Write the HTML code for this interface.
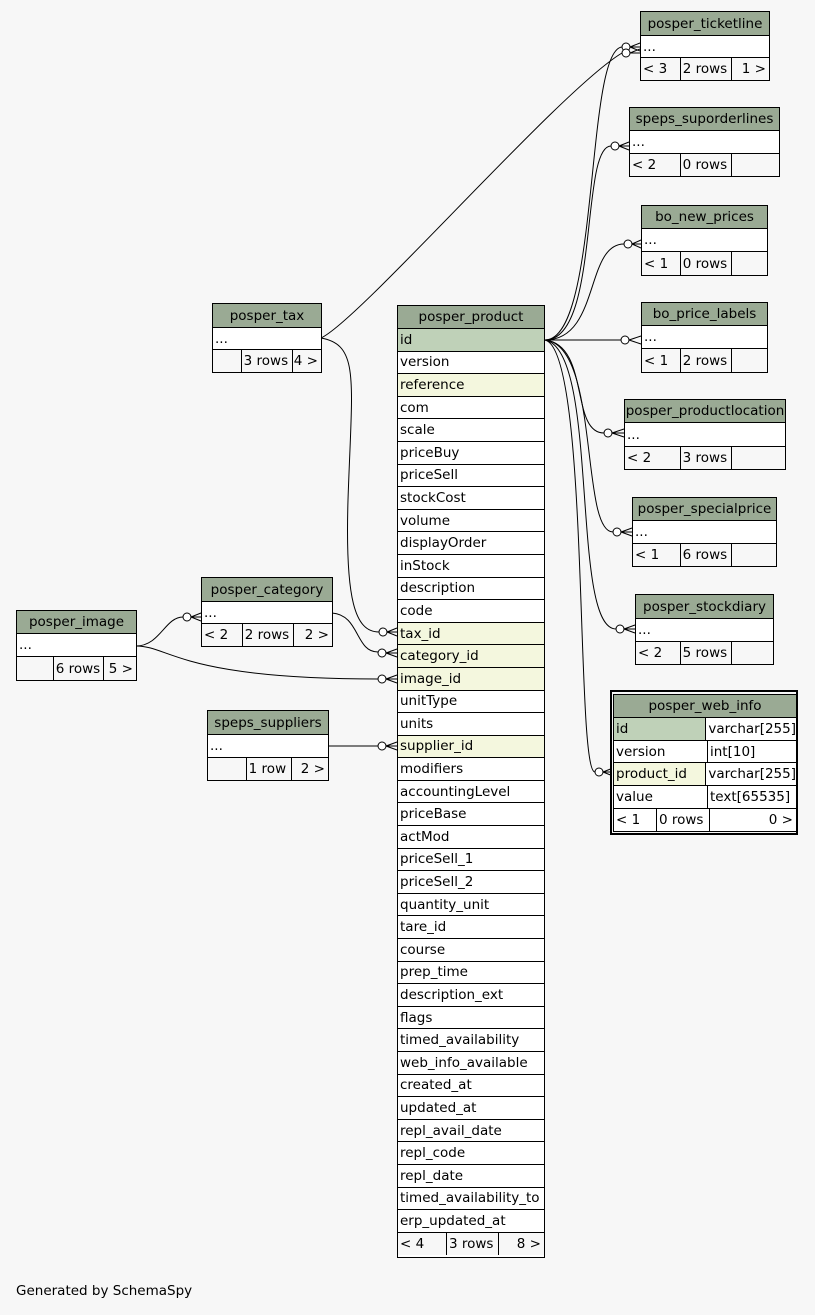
<!DOCTYPE html>
<html><head><meta charset="utf-8">
<style>
body{margin:0;background:#f7f7f7;width:815px;height:1315px;position:relative;overflow:hidden;font-family:"DejaVu Sans","Liberation Sans",sans-serif;font-size:13.5px;color:#000}
.t{position:absolute;border:1px solid #000;background:#fff;box-sizing:border-box}
.t>div{box-sizing:border-box;border-bottom:1px solid #000;padding-left:2px;white-space:nowrap;overflow:hidden;display:flex;align-items:center}
.t>div:last-child{border-bottom:none}
.h{background:#9aaa94;justify-content:center;padding-left:0!important}
.pk{background:#bfd1b8}
.fk{background:#f4f7de}
.f{padding-left:0!important;background:#f7f7f7}
.f span{display:flex;align-items:center;height:100%;padding-left:2px;box-sizing:border-box;border-left:1px solid #000}
.f span:first-child{border-left:none}
.f span.r{justify-content:flex-end;padding-right:3px}
svg{position:absolute;left:0;top:0}
</style></head><body>
<svg width="815" height="1315" fill="none" stroke="#000" stroke-width="1">
<path d="M545,340 C600,340 585,50 622,47"/>
<path d="M321,338 C360,320 560,90 622,53"/>
<path d="M545,340 C600,340 580,146 611,146"/>
<path d="M545,340 C600,340 585,244 624,244"/>
<path d="M545,340 L621,340"/>
<path d="M545,340 C590,345 570,433 604,433"/>
<path d="M545,340 C600,345 580,532 613,532"/>
<path d="M545,340 C600,350 570,629 616,629"/>
<path d="M545,340 C590,350 575,772 595,772"/>
<path d="M321,338 C360,345 352,380 348,500 C345,600 355,632 379,632"/>
<path d="M332,613 C360,615 355,652 378,652"/>
<path d="M136,646 C160,646 165,617 183,617"/>
<path d="M136,646 C170,646 180,679 378,679"/>
<path d="M328,746 L378,746"/>
<g fill="#fff">
<circle cx="626" cy="47" r="4"/><circle cx="626" cy="53" r="4"/>
<circle cx="615" cy="146" r="4"/><circle cx="628" cy="244" r="4"/>
<circle cx="625" cy="340" r="4"/><circle cx="608" cy="433" r="4"/>
<circle cx="617" cy="532" r="4"/><circle cx="620" cy="629" r="4"/>
<circle cx="599" cy="772" r="4"/><circle cx="383" cy="632" r="4"/>
<circle cx="382" cy="653" r="4"/><circle cx="187" cy="617" r="4"/>
<circle cx="382" cy="679" r="4"/><circle cx="382" cy="746" r="4"/>
</g>
<path d="M630,47 L640,43 M630,47 L640,47 M630,47 L640,51 M630,53 L640,49 M630,53 L640,53 M619,146 L629,142 M619,146 L629,146 M619,146 L629,150 M632,244 L641,240 M632,244 L641,244 M632,244 L641,248 M629,340 L641,336 M629,340 L641,344 M612,433 L624,429 M612,433 L624,433 M612,433 L624,437 M621,532 L632,528 M621,532 L632,532 M621,532 L632,536 M624,629 L635,625 M624,629 L635,629 M624,629 L635,633 M603,772 L613,768 M603,772 L613,772 M603,772 L613,776 M387,632 L397,628 M387,632 L397,632 M387,632 L397,636 M386,653 L397,649 M386,653 L397,653 M386,653 L397,657 M191,617 L201,613 M191,617 L201,617 M191,617 L201,621 M386,679 L397,675 M386,679 L397,679 M386,679 L397,683 M386,746 L397,742 M386,746 L397,746 M386,746 L397,750"/>
</svg>

<div class="t" style="left:640px;top:11px;width:130px;height:70px"><div class="h" style="height:24px">posper_ticketline</div><div style="height:22px">...</div><div class="f" style="height:22px"><span style="width:39px">&lt; 3</span><span style="width:52px">2 rows</span><span class="r" style="width:38px">1 &gt;</span></div></div>
<div class="t" style="left:629px;top:107px;width:151px;height:70px"><div class="h" style="height:23px">speps_suporderlines</div><div style="height:23px">...</div><div class="f" style="height:22px"><span style="width:50px">&lt; 2</span><span style="width:52px">0 rows</span><span style="width:48px"></span></div></div>
<div class="t" style="left:641px;top:205px;width:127px;height:71px"><div class="h" style="height:23px">bo_new_prices</div><div style="height:23px">...</div><div class="f" style="height:23px"><span style="width:38px">&lt; 1</span><span style="width:52px">0 rows</span><span style="width:36px"></span></div></div>
<div class="t" style="left:641px;top:302px;width:127px;height:71px"><div class="h" style="height:23px">bo_price_labels</div><div style="height:23px">...</div><div class="f" style="height:23px"><span style="width:38px">&lt; 1</span><span style="width:52px">2 rows</span><span style="width:36px"></span></div></div>
<div class="t" style="left:624px;top:399px;width:162px;height:71px"><div class="h" style="height:23px">posper_productlocation</div><div style="height:24px">...</div><div class="f" style="height:22px"><span style="width:55px">&lt; 2</span><span style="width:52px">3 rows</span><span style="width:54px"></span></div></div>
<div class="t" style="left:632px;top:497px;width:145px;height:70px"><div class="h" style="height:23px">posper_specialprice</div><div style="height:23px">...</div><div class="f" style="height:22px"><span style="width:47px">&lt; 1</span><span style="width:52px">6 rows</span><span style="width:45px"></span></div></div>
<div class="t" style="left:635px;top:594px;width:139px;height:71px"><div class="h" style="height:24px">posper_stockdiary</div><div style="height:23px">...</div><div class="f" style="height:22px"><span style="width:44px">&lt; 2</span><span style="width:52px">5 rows</span><span style="width:42px"></span></div></div>

<div style="position:absolute;left:610px;top:690px;width:188px;height:145px;border:2px solid #000;box-sizing:border-box;background:#f7f7f7"></div>
<div class="t" style="left:613px;top:694px;width:184px;height:138px;border:1px solid #000">
<div class="h" style="height:23px">posper_web_info</div>
<div style="height:23px;padding:0"><span class="pk" style="width:94px;height:100%;display:flex;align-items:center;padding-left:2px;border-right:1px solid #000;box-sizing:border-box">id</span><span style="padding-left:2px">varchar[255]</span></div>
<div style="height:22px;padding:0"><span style="width:94px;height:100%;display:flex;align-items:center;padding-left:2px;border-right:1px solid #000;box-sizing:border-box">version</span><span style="padding-left:2px">int[10]</span></div>
<div style="height:23px;padding:0"><span class="fk" style="width:94px;height:100%;display:flex;align-items:center;padding-left:2px;border-right:1px solid #000;box-sizing:border-box">product_id</span><span style="padding-left:2px">varchar[255]</span></div>
<div style="height:23px;padding:0"><span style="width:94px;height:100%;display:flex;align-items:center;padding-left:2px;border-right:1px solid #000;box-sizing:border-box">value</span><span style="padding-left:2px">text[65535]</span></div>
<div class="f" style="height:22px;background:#fff"><span style="width:42px">&lt; 1</span><span style="width:53px">0 rows</span><span class="r" style="width:87px">0 &gt;</span></div>
</div>

<div class="t" style="left:212px;top:303px;width:110px;height:70px"><div class="h" style="height:24px">posper_tax</div><div style="height:22px">...</div><div class="f" style="height:22px"><span style="width:28px"></span><span style="width:52px">3 rows</span><span class="r" style="width:29px">4 &gt;</span></div></div>
<div class="t" style="left:201px;top:577px;width:132px;height:70px"><div class="h" style="height:24px">posper_category</div><div style="height:22px">...</div><div class="f" style="height:22px"><span style="width:40px">&lt; 2</span><span style="width:52px">2 rows</span><span class="r" style="width:39px">2 &gt;</span></div></div>
<div class="t" style="left:16px;top:610px;width:121px;height:71px"><div class="h" style="height:23px">posper_image</div><div style="height:23px">...</div><div class="f" style="height:23px"><span style="width:36px"></span><span style="width:51px">6 rows</span><span class="r" style="width:33px">5 &gt;</span></div></div>
<div class="t" style="left:207px;top:710px;width:122px;height:71px"><div class="h" style="height:24px">speps_suppliers</div><div style="height:23px">...</div><div class="f" style="height:22px"><span style="width:38px"></span><span style="width:46px">1 row</span><span class="r" style="width:37px">2 &gt;</span></div></div>

<div class="t" style="left:397px;top:305px;width:148px;height:953px">
<div class="h" style="height:23px">posper_product</div>
<div class="pk" style="height:22.6px">id</div>
<div style="height:22.6px">version</div>
<div class="fk" style="height:22.6px">reference</div>
<div style="height:22.6px">com</div>
<div style="height:22.6px">scale</div>
<div style="height:22.6px">priceBuy</div>
<div style="height:22.6px">priceSell</div>
<div style="height:22.6px">stockCost</div>
<div style="height:22.6px">volume</div>
<div style="height:22.6px">displayOrder</div>
<div style="height:22.6px">inStock</div>
<div style="height:22.6px">description</div>
<div style="height:22.6px">code</div>
<div class="fk" style="height:22.6px">tax_id</div>
<div class="fk" style="height:22.6px">category_id</div>
<div class="fk" style="height:22.6px">image_id</div>
<div style="height:22.6px">unitType</div>
<div style="height:22.6px">units</div>
<div class="fk" style="height:22.6px">supplier_id</div>
<div style="height:22.6px">modifiers</div>
<div style="height:22.6px">accountingLevel</div>
<div style="height:22.6px">priceBase</div>
<div style="height:22.6px">actMod</div>
<div style="height:22.6px">priceSell_1</div>
<div style="height:22.6px">priceSell_2</div>
<div style="height:22.6px">quantity_unit</div>
<div style="height:22.6px">tare_id</div>
<div style="height:22.6px">course</div>
<div style="height:22.6px">prep_time</div>
<div style="height:22.6px">description_ext</div>
<div style="height:22.6px">flags</div>
<div style="height:22.6px">timed_availability</div>
<div style="height:22.6px">web_info_available</div>
<div style="height:22.6px">created_at</div>
<div style="height:22.6px">updated_at</div>
<div style="height:22.6px">repl_avail_date</div>
<div style="height:22.6px">repl_code</div>
<div style="height:22.6px">repl_date</div>
<div style="height:22.6px">timed_availability_to</div>
<div style="height:22.6px">erp_updated_at</div>
<div class="f" style="height:22px"><span style="width:48px">&lt; 4</span><span style="width:52px">3 rows</span><span class="r" style="width:46px">8 &gt;</span></div>
</div>

<div style="position:absolute;left:16px;top:1283px;font-size:13.5px">Generated by SchemaSpy</div>
</body></html>
